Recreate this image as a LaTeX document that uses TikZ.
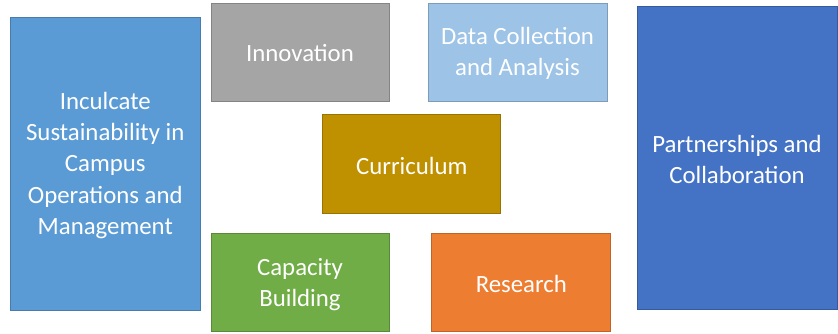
\documentclass[tikz,border=0pt]{standalone}
\usepackage{fontspec}
\setmainfont{Carlito}
\definecolor{cBlueL}{HTML}{5B9BD5}
\definecolor{cGray}{HTML}{A5A5A5}
\definecolor{cGold}{HTML}{BF9000}
\definecolor{cGreen}{HTML}{70AD47}
\definecolor{cLight}{HTML}{9DC3E6}
\definecolor{cOrange}{HTML}{ED7D31}
\definecolor{cBlueD}{HTML}{4472C4}
\begin{document}
\begin{tikzpicture}[x=1pt,y=-1pt,
  box/.style={rectangle, draw=#1!80!black, fill=#1, line width=1pt, inner sep=0pt},
  lbl/.style={text=white, align=center, inner sep=0pt,
    font=\fontsize{24.8}{31.2}\selectfont},
]
\useasboundingbox (0,0) rectangle (838,333);
\node[box=cBlueL, minimum width=190.5pt, minimum height=293pt] (inc) at (105.25,163.5) {};
\node[box=cGray, minimum width=178pt, minimum height=98pt] (inn) at (300,52) {};
\node[box=cLight, minimum width=179pt, minimum height=98pt] (dat) at (517.5,52) {};
\node[box=cGold, minimum width=177.7pt, minimum height=98.5pt] (cur) at (411.8,164.2) {};
\node[box=cGreen, minimum width=178pt, minimum height=98.3pt] (cap) at (300,282.8) {};
\node[box=cOrange, minimum width=178.7pt, minimum height=98.3pt] (res) at (521.3,282.8) {};
\node[box=cBlueD, minimum width=200pt, minimum height=303pt] (par) at (737,158.3) {};
\node[lbl] (incT) at ([yshift=-2pt]inc.center) {Inculcate\\Sustainability in\\Campus\\Operations and\\Management};
\node[lbl] (innT) at ([yshift=-1.5pt]inn.center) {Innovation};
\node[lbl] (datT) at ([yshift=-1.5pt]dat.center) {Data Collection\\and Analysis};
\node[lbl] (curT) at ([yshift=-1.5pt]cur.center) {Curriculum};
\node[lbl] (capT) at ([yshift=-1.5pt]cap.center) {Capacity\\Building};
\node[lbl] (resT) at ([yshift=-1.5pt]res.center) {Research};
\node[lbl] (parT) at ([yshift=-1.5pt]par.center) {Partnerships and\\Collaboration};
\end{tikzpicture}
\end{document}
